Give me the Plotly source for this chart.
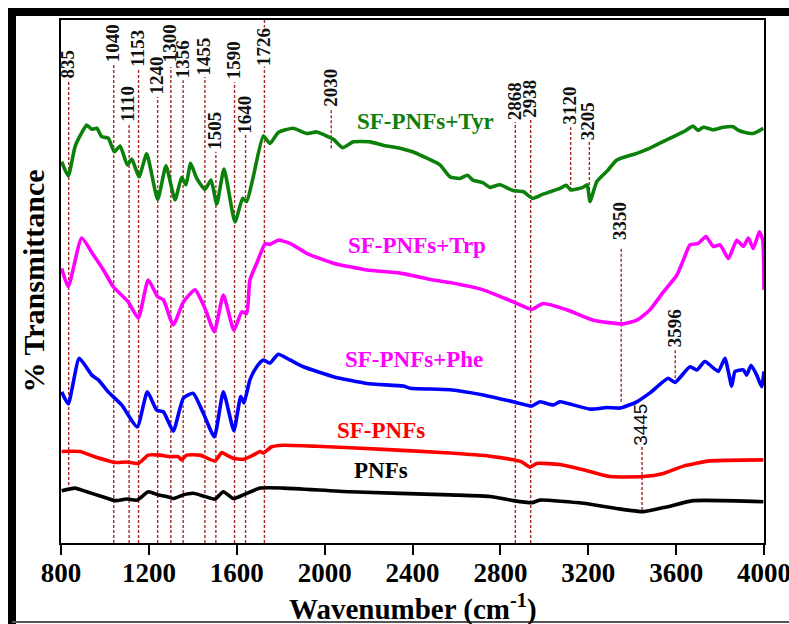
import plotly.graph_objects as go

# ---------------- spectra (wavenumber in cm^-1, offset % transmittance) ----------------
tyr_wn = [803, 833, 864, 894, 917, 940, 963, 985, 1015, 1043, 1069, 1102, 1122, 1155, 1190,
          1240, 1278, 1319, 1349, 1369, 1390, 1418, 1455, 1483, 1509, 1542, 1592, 1627, 1645,
          1675, 1721, 1751, 1789, 1857, 1918, 1964, 2000, 2040, 2082, 2131, 2207, 2270, 2343,
          2400, 2449, 2525, 2571, 2616, 2650, 2675, 2720, 2753, 2798, 2857, 2903, 2947, 2994,
          3030, 3071, 3100, 3120, 3176, 3195, 3208, 3239, 3290, 3329, 3421, 3481, 3557, 3633,
          3678, 3700, 3724, 3769, 3815, 3860, 3880, 3906, 3951, 3997]
tyr_t = [72.9, 70.2, 75.8, 78.4, 79.9, 79.1, 79.3, 77.7, 77.4, 74.8, 75.9, 72.3, 73.4, 70.0, 74.4,
         65.7, 72.1, 65.6, 69.9, 68.5, 72.6, 69.7, 67.6, 69.4, 64.8, 71.5, 61.4, 65.9, 65.3,
         70.0, 77.8, 76.4, 78.5, 79.3, 78.3, 78.6, 78.0, 77.2, 75.6, 76.7, 76.7, 76.0, 75.5,
         74.8, 73.9, 72.3, 70.0, 69.7, 70.3, 69.4, 68.9, 68.0, 68.5, 67.4, 67.2, 65.9, 66.7,
         67.2, 67.8, 68.4, 67.5, 68.0, 68.5, 65.3, 69.1, 71.3, 73.2, 74.5, 75.5, 77.1, 78.6,
         79.7, 78.9, 79.5, 79.0, 79.5, 79.6, 79.0, 78.6, 78.3, 79.3]

trp_wn = [803, 833, 894, 947, 993, 1038, 1106, 1152, 1197, 1240, 1266, 1311, 1357, 1410, 1455,
          1498, 1539, 1587, 1623, 1645, 1660, 1691, 1729, 1751, 1789, 1842, 1918, 2040, 2192,
          2343, 2495, 2571, 2722, 2859, 2943, 2995, 3102, 3223, 3360, 3421, 3481, 3542, 3603,
          3633, 3663, 3701, 3736, 3769, 3800, 3838, 3876, 3906, 3929, 3951, 3979, 3994, 4000]
trp_t = [52.5, 49.0, 58.3, 55.1, 52.2, 49.0, 46.1, 43.0, 50.3, 47.1, 46.5, 41.7, 46.1, 48.4, 44.9,
         40.4, 47.4, 40.7, 44.2, 43.9, 50.3, 53.5, 57.2, 57.1, 57.9, 57.3, 55.4, 53.5, 52.2,
         51.6, 50.3, 49.8, 48.4, 46.1, 44.7, 45.8, 44.6, 42.6, 41.9, 42.6, 44.6, 48.0, 51.2,
         54.1, 57.0, 57.3, 58.6, 56.7, 57.0, 54.4, 57.9, 56.7, 58.3, 56.3, 59.5, 57.9, 48.4]

phe_wn = [803, 833, 883, 940, 970, 1015, 1076, 1147, 1193, 1236, 1266, 1311, 1357, 1402, 1448,
          1498, 1539, 1587, 1618, 1633, 1660, 1691, 1721, 1751, 1789, 1842, 1903, 2040, 2192,
          2358, 2389, 2571, 2722, 2859, 2943, 2980, 3041, 3071, 3208, 3284, 3345, 3421, 3481,
          3564, 3595, 3663, 3694, 3731, 3792, 3822, 3853, 3868, 3906, 3921, 3941, 3967, 3989, 4000]
phe_t = [28.9, 26.6, 35.3, 32.1, 31.2, 28.9, 26.4, 22.2, 28.9, 25.4, 25.1, 21.4, 27.7, 28.6, 24.8,
         20.3, 28.9, 21.5, 28.0, 26.8, 31.2, 33.7, 35.0, 34.4, 36.1, 35.0, 33.7, 31.8, 30.5,
         30.0, 29.6, 29.3, 28.3, 27.0, 26.2, 27.0, 26.4, 27.0, 25.6, 25.9, 25.8, 27.0, 28.7,
         31.5, 30.7, 33.7, 33.1, 34.7, 32.8, 35.3, 30.0, 32.8, 33.1, 32.1, 34.0, 32.1, 29.9, 32.8]

sf_wn = [803, 886, 947, 1046, 1099, 1152, 1197, 1251, 1296, 1334, 1349, 1372, 1433, 1501, 1532,
         1554, 1584, 1630, 1675, 1706, 1721, 1759, 1812, 1964, 2267, 2571, 2753, 2859, 2897,
         2935, 2965, 3071, 3178, 3299, 3451, 3542, 3633, 3754, 3997]
sf_t = [17.5, 17.5, 16.6, 15.4, 15.5, 15.2, 16.8, 16.8, 16.5, 16.5, 15.9, 16.8, 16.8, 15.7, 17.3,
        16.8, 16.2, 16.0, 16.8, 17.5, 17.2, 18.4, 18.7, 18.5, 17.9, 17.2, 16.6, 15.9, 15.5,
        14.5, 15.2, 15.0, 14.0, 12.7, 12.7, 13.3, 14.7, 15.7, 15.9]

pnf_wn = [803, 864, 917, 978, 1046, 1099, 1147, 1197, 1243, 1281, 1311, 1357, 1402, 1455, 1501,
          1539, 1584, 1630, 1706, 1812, 2116, 2571, 2753, 2859, 2943, 2980, 3178, 3329, 3451,
          3557, 3678, 3997]
pnf_t = [10.0, 10.5, 9.8, 9.0, 8.1, 8.4, 8.2, 9.8, 9.2, 8.9, 8.5, 9.2, 9.5, 8.9, 8.4,
         9.8, 8.5, 9.2, 10.5, 10.5, 9.8, 9.2, 8.9, 8.1, 7.7, 8.2, 7.6, 6.6, 6.0,
         6.9, 8.1, 7.9]

series_names = ["SF-PNFs+Tyr", "SF-PNFs+Trp", "SF-PNFs+Phe", "SF-PNFs", "PNFs"]

# ---------------- assigned band positions (cm^-1) ----------------
band_wn = [835, 1040, 1110, 1153, 1240, 1300, 1356, 1455, 1505, 1590, 1640, 1726,
           2030, 2868, 2938, 3120, 3205, 3350, 3445, 3596]
band_text = [str(v) for v in band_wn]

x_ticks = [800, 1200, 1600, 2000, 2400, 2800, 3200, 3600, 4000]

# ---------------- styling ----------------
SERIF = "Liberation Serif, Times New Roman, serif"
line_colors = ["#0b800b", "#ff00ff", "#0000ff", "#ff0000", "#000000"]
label_colors = ["#0b800b", "#ff00ff", "#ff00ff", "#ff0000", "#000000"]
label_pos = [(2461, 80.5), (2421, 56.8), (2407, 35.0), (2257, 21.6), (2257, 13.8)]
BAND_COLOR = "#a8282a"

# dashed guide extents (bottom, top) and label centres per band, in y-axis units
band_span = [(11.1, 88.5), (0, 91.4), (0, 80.3), (0, 90.8), (0, 85.3), (0, 91.0), (0, 88.5),
             (0, 89.1), (0, 74.8), (0, 88.1), (0, 78.0), (0, 100),
             (75.5, 82.8), (0, 80.5), (0, 80.9), (67.5, 79.5), (65.6, 76.7), (27.0, 56.6),
             (6.3, 18.4), (31.5, 36.9)]
band_label_y = [91.6, 95.5, 84.0, 94.6, 89.3, 95.5, 92.5, 93.0, 78.8, 92.2, 81.8, 94.9,
                87.1, 84.5, 84.9, 83.6, 80.7, 61.6, 22.6, 41.1]

fig = go.Figure()

all_wn = [tyr_wn, trp_wn, phe_wn, sf_wn, pnf_wn]
all_t = [tyr_t, trp_t, phe_t, sf_t, pnf_t]

# dashed guides beneath the spectra
for wn, (y0, y1) in zip(band_wn, band_span):
    fig.add_shape(type="line", xref="x", yref="y", x0=wn, x1=wn, y0=y0, y1=y1,
                  line=dict(color=BAND_COLOR, width=1.4, dash="3px,2px"), layer="below")

for name, wn, t, c in zip(series_names, all_wn, all_t, line_colors):
    fig.add_trace(go.Scatter(x=wn, y=t, mode="lines", name=name,
                             line=dict(color=c, width=3.6, shape="spline", smoothing=0.5),
                             showlegend=False))

# series captions
for name, (lx, ly), c in zip(series_names, label_pos, label_colors):
    fig.add_annotation(x=lx, y=ly, xref="x", yref="y", text="<b>%s</b>" % name,
                       showarrow=False, font=dict(family=SERIF, size=23, color=c))

# band labels
for wn, txt, ly in zip(band_wn, band_text, band_label_y):
    if txt == "3445":
        fnt = dict(family="Liberation Sans, Arial, sans-serif", size=19, color="#111")
        t = txt
    else:
        fnt = dict(family=SERIF, size=19, color="#111")
        t = "<b>%s</b>" % txt
    fig.add_annotation(x=wn, y=ly, xref="x", yref="y", text=t, textangle=-90,
                       showarrow=False, font=fnt,
                       bgcolor="white" if txt == "1726" else "rgba(0,0,0,0)",
                       borderpad=0, xshift=-1)

# axis titles
fig.add_annotation(x=0.5, y=-0.123, xref="paper", yref="paper",
                   text="<b>Wavenumber (cm<sup>-1</sup>)</b>", showarrow=False,
                   font=dict(family=SERIF, size=29, color="black"), yanchor="middle")
fig.add_annotation(x=-0.0398, y=0.5, xref="paper", yref="paper",
                   text="<b>% Transmittance</b>", textangle=-90, showarrow=False,
                   font=dict(family=SERIF, size=30, color="black"), xanchor="center")

# outer frame
fig.add_shape(type="line", xref="paper", yref="paper", x0=-0.0754, x1=1.04, y0=1.0153, y1=1.0153,
              line=dict(color="black", width=8))
fig.add_shape(type="line", xref="paper", yref="paper", x0=-0.0697, x1=-0.0697, y0=1.023, y1=-0.16,
              line=dict(color="black", width=8))
fig.add_shape(type="line", xref="paper", yref="paper", x0=-0.0697, x1=1.04, y0=-0.151, y1=-0.151,
              line=dict(color="#555", width=2))

fig.update_xaxes(range=[800, 4000], tickvals=x_ticks,
                 ticktext=["<b>%d</b>" % v for v in x_ticks],
                 ticks="outside", ticklen=10, tickwidth=2, tickcolor="black",
                 ticklabeloverflow="allow", ticklabelstandoff=-5, automargin=False,
                 showline=True, linewidth=2, linecolor="black", mirror=True,
                 showgrid=False, zeroline=False,
                 tickfont=dict(family=SERIF, size=27, color="black"))
fig.update_yaxes(range=[0, 100], showticklabels=False, ticks="", automargin=False,
                 showline=True, linewidth=2, linecolor="black", mirror=True,
                 showgrid=False, zeroline=False)

fig.update_layout(width=789, height=624, margin=dict(l=61, r=25, t=20, b=81, autoexpand=False),
                  plot_bgcolor="white", paper_bgcolor="white")

fig.write_html("out.html")
